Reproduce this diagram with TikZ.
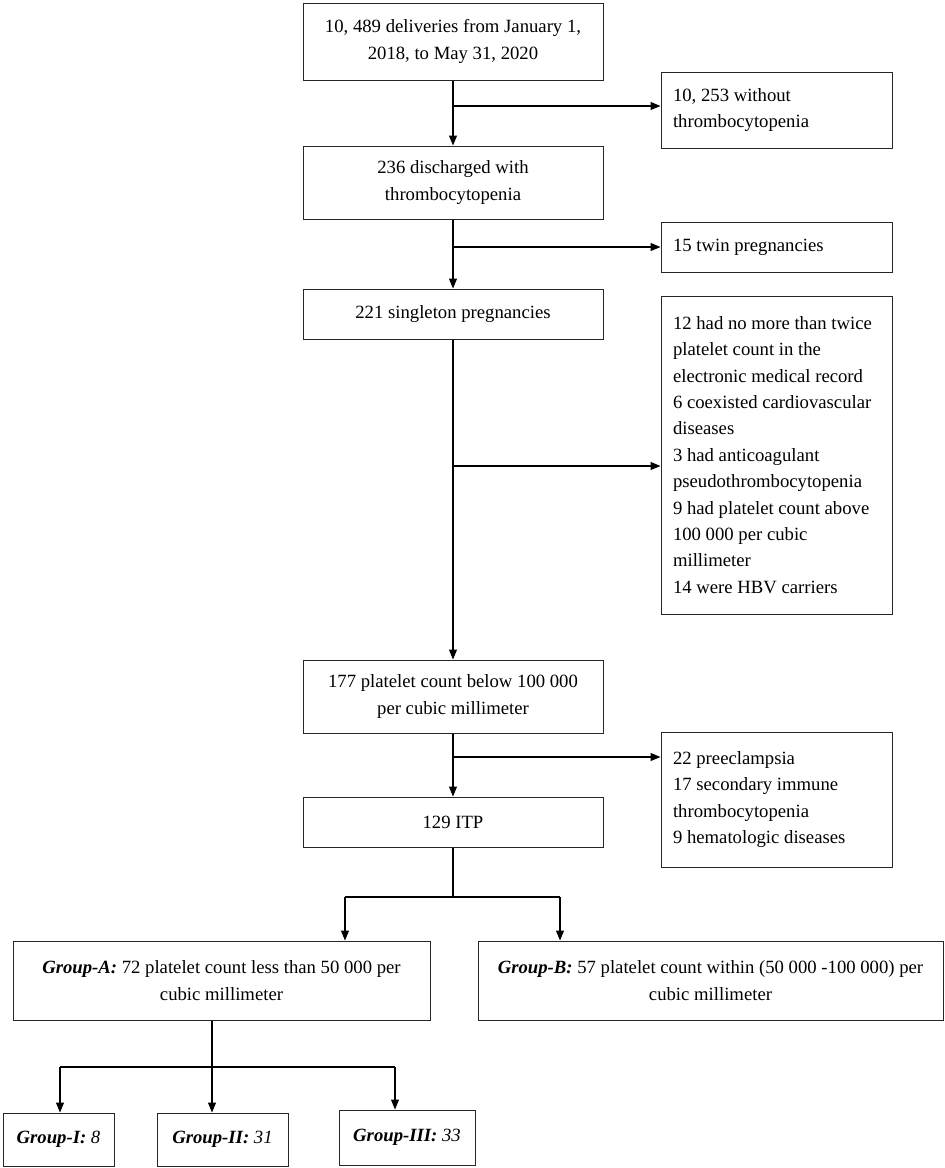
\documentclass[tikz,border=0pt]{standalone}
\usepackage{fontspec}
\setmainfont{Liberation Serif}
\usetikzlibrary{arrows.meta}
\begin{document}
\begin{tikzpicture}[x=1pt,y=-1pt,
	box/.style={draw=black!85,line width=1pt,align=center,inner sep=0pt,font=\fontsize{18.7}{26.4}\selectfont},
	lbox/.style={box,align=flush left,inner xsep=12pt,text width=207pt},
	arr/.style={line width=1.1pt,-{Triangle[length=10pt,width=8pt]}},
	ln/.style={line width=1.1pt}]
	\useasboundingbox (0,0) rectangle (945,1168);
	\fill[white] (0,0) rectangle (945,1168);
	% main column
	\node[box,minimum width=300pt,minimum height=77pt] (deliv) at (453,41.5) {10, 489 deliveries from January 1,\\2018, to May 31, 2020};
	\node[box,minimum width=300pt,minimum height=73pt] (disch) at (453,182.5) {236 discharged with\\thrombocytopenia};
	\node[box,minimum width=300pt,minimum height=50pt] (single) at (453,314) {221 singleton pregnancies};
	\node[box,minimum width=300pt,minimum height=73pt] (below) at (453,696.5) {177 platelet count below 100 000\\per cubic millimeter};
	\node[box,minimum width=300pt,minimum height=50pt] (itp) at (453,822) {129 ITP};
	% excluded
	\node[lbox,minimum height=76pt] (nothromb) at (776.5,110) {10, 253 without\\thrombocytopenia};
	\node[lbox,minimum height=50pt] (twin) at (776.5,247) {15 twin pregnancies};
	\node[lbox,minimum height=318pt] (excl) at (776.5,455) {\mbox{12 had no more than twice}\\platelet count in the\\electronic medical record\\6 coexisted cardiovascular\\diseases\\3 had anticoagulant\\pseudothrombocytopenia\\9 had platelet count above\\100 000 per cubic\\millimeter\\14 were HBV carriers};
	\node[lbox,minimum height=135pt] (preecl) at (776.5,799.5) {22 preeclampsia\\17 secondary immune\\thrombocytopenia\\9 hematologic diseases};
	% groups
	\node[box,minimum width=417pt,minimum height=79pt] (grpA) at (221.5,980.5) {\textbf{\textit{Group-A:}} 72 platelet count less than 50 000 per\\cubic millimeter};
	\node[box,minimum width=465pt,minimum height=79pt] (grpB) at (710.5,980.5) {\textbf{\textit{Group-B:}} 57 platelet count within (50 000 -100 000) per\\cubic millimeter};
	\node[box,minimum width=111pt,minimum height=53pt] (grpI) at (58.5,1139.5) {\textbf{\textit{Group-I:}} \textit{8}};
	\node[box,minimum width=131pt,minimum height=53pt] (grpII) at (222.5,1139.5) {\textbf{\textit{Group-II:}} \textit{31}};
	\node[box,minimum width=136pt,minimum height=55pt] (grpIII) at (407,1137.5) {\textbf{\textit{Group-III:}} \textit{33}};
	% connectors
	\coordinate (b1) at (453,106);
	\coordinate (b2) at (453,247);
	\coordinate (b3) at (453,466);
	\coordinate (b4) at (453,757);
	\draw[arr] (deliv) -- (disch);
	\draw[arr] (disch) -- (single);
	\draw[arr] (single) -- (below);
	\draw[arr] (below) -- (itp);
	\draw[arr] (b1) -- (b1 -| nothromb.west);
	\draw[arr] (b2) -- (b2 -| twin.west);
	\draw[arr] (b3) -- (b3 -| excl.west);
	\draw[arr] (b4) -- (b4 -| preecl.west);
	\coordinate (sA) at (345,897);
	\coordinate (sB) at (560,897);
	\draw[ln] (itp) -- (itp.south |- sA);
	\draw[ln] (sA) -- (sB);
	\draw[arr] (sA) -- (sA |- grpA.north);
	\draw[arr] (sB) -- (sB |- grpB.north);
	\coordinate (s1) at (60,1067);
	\coordinate (s2) at (212,1067);
	\coordinate (s3) at (395,1067);
	\draw[ln] (grpA.south -| s2) -- (s2);
	\draw[ln] (s1) -- (s3);
	\draw[arr] (s1) -- (s1 |- grpI.north);
	\draw[arr] (s2) -- (s2 |- grpII.north);
	\draw[arr] (s3) -- (s3 |- grpIII.north);
\end{tikzpicture}
\end{document}
